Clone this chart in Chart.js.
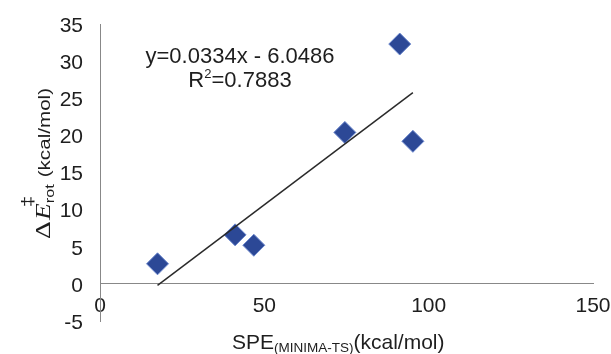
<!DOCTYPE html>
<html><head><meta charset="utf-8">
<script src="https://cdn.jsdelivr.net/npm/chart.js@4.4.1/dist/chart.umd.min.js"></script>
<style>html,body{margin:0;padding:0;background:#fff}canvas{display:block}</style>
</head><body>
<canvas id="c" width="611" height="354"></canvas>
<script>
// ---- data ----
const speValues = [17.5, 41.1, 46.8, 74.5, 91.2, 95.2];
const rotBarrier = [2.7, 6.6, 5.2, 20.4, 32.3, 19.2];
const xTicks = [0, 50, 100, 150];
const yTicks = [-5, 0, 5, 10, 15, 20, 25, 30, 35];
const trendSlope = 0.334;      // slope of the drawn trendline in plot units
const trendIntercept = -6.0486;
const equationLabel = 'y=0.0334x - 6.0486';
const r2Label = '0.7883';

const FONT = "'Liberation Sans', Arial, sans-serif";
const SERIF = "'Liberation Serif', 'Times New Roman', serif";
const TEXT = '#1e1e1e';
const AXIS = '#888888';

const points = speValues.map((x, i) => ({x, y: rotBarrier[i]}));
const xMin = Math.min(...speValues), xMax = Math.max(...speValues);
const trend = [xMin, xMax].map(x => ({x, y: trendSlope * x + trendIntercept}));

const textPlugin = {
  id: 'texts',
  afterDraw(chart) {
    const ctx = chart.ctx;
    ctx.save();
    ctx.fillStyle = TEXT;
    ctx.textBaseline = 'alphabetic';
    // equation
    ctx.font = '22px ' + FONT;
    ctx.textAlign = 'center';
    ctx.fillText(equationLabel, 240, 63);
    // R^2 line
    const rW = ctx.measureText('R').width;
    ctx.font = '13px ' + FONT;
    const sW = ctx.measureText('2').width;
    ctx.font = '22px ' + FONT;
    const vW = ctx.measureText('=' + r2Label).width;
    let x0 = 240 - (rW + sW + vW) / 2;
    ctx.textAlign = 'left';
    ctx.fillText('R', x0, 87);
    ctx.font = '13px ' + FONT;
    ctx.fillText('2', x0 + rW, 78);
    ctx.font = '22px ' + FONT;
    ctx.fillText('=' + r2Label, x0 + rW + sW, 87);

    // x title
    let x = 232;
    ctx.font = '21px ' + FONT;
    ctx.fillText('SPE', x, 349); x += ctx.measureText('SPE').width;
    ctx.font = '13.5px ' + FONT;
    ctx.fillText('(MINIMA-TS)', x, 352); x += ctx.measureText('(MINIMA-TS)').width;
    ctx.font = '21px ' + FONT;
    ctx.fillText('(kcal/mol)', x, 349);

    // y title (rotated)
    ctx.translate(50, 239);
    ctx.rotate(-Math.PI / 2);
    ctx.scale(1.25, 1);
    let p = 0;
    ctx.font = '22px ' + SERIF;
    ctx.fillText('\u0394', p, 0); p += ctx.measureText('\u0394').width + 1;
    ctx.font = 'italic 22px ' + SERIF;
    ctx.fillText('E', p, 0); p += ctx.measureText('E').width;
    ctx.font = '16px ' + FONT;
    ctx.fillText('\u2021', p - 3, -17);
    ctx.font = '13px ' + FONT;
    ctx.fillText('rot', p, 4); p += ctx.measureText('rot').width + 1;
    ctx.font = '16.5px ' + FONT;
    ctx.fillText(' (kcal/mol)', p, 0);
    ctx.restore();
  }
};

new Chart(document.getElementById('c'), {
  type: 'scatter',
  data: {
    datasets: [
      {
        data: trend, type: 'line', showLine: true, order: 0,
        borderColor: '#2a2a2a', borderWidth: 1.5, pointRadius: 0, fill: false
      },
      {
        data: points, order: 1,
        pointStyle: 'rectRot', pointRadius: 11, pointHoverRadius: 11,
        backgroundColor: '#2C4896', borderColor: '#6A86CC', borderWidth: 1
      }
    ]
  },
  options: {
    responsive: false, animation: false, devicePixelRatio: 1,
    layout: {padding: {left: 0, right: 18, top: 24, bottom: 33}},
    plugins: {legend: {display: false}, tooltip: {enabled: false}},
    scales: {
      x: {
        type: 'linear', min: 0, max: 150, position: {y: 0},
        afterBuildTicks: s => { s.ticks = xTicks.map(v => ({value: v})); },
        afterFit: s => { s.height = 0; s.paddingLeft = 0; s.paddingRight = 0; },
        grid: {display: false, drawTicks: false},
        border: {display: true, color: AXIS, width: 1},
        ticks: {font: {size: 21, family: FONT}, color: TEXT, padding: 10, maxRotation: 0}
      },
      y: {
        type: 'linear', min: -5, max: 35,
        afterBuildTicks: s => { s.ticks = yTicks.map(v => ({value: v})); },
        afterFit: s => { s.width = 100; s.paddingTop = 0; s.paddingBottom = 0; },
        grid: {display: false, drawTicks: false},
        border: {display: true, color: AXIS, width: 1},
        ticks: {font: {size: 21, family: FONT}, color: TEXT, padding: 17, labelOffset: 2}
      }
    }
  },
  plugins: [textPlugin]
});
</script>
</body></html>
